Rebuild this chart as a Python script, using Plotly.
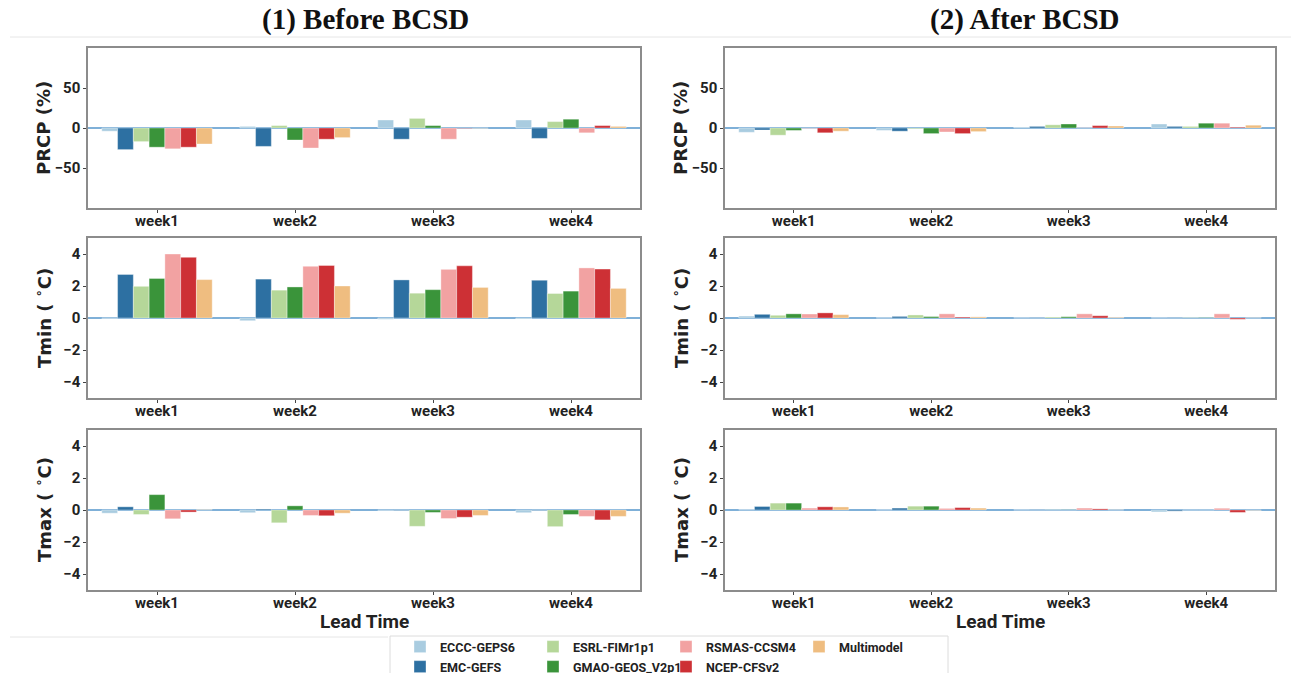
import plotly.graph_objects as go

W, H = 1291, 673

MODELS = ["ECCC-GEPS6", "EMC-GEFS", "ESRL-FIMr1p1", "GMAO-GEOS_V2p1",
          "RSMAS-CCSM4", "NCEP-CFSv2", "Multimodel"]
COLORS = ["#a9cce0", "#2d70a2", "#b5d799", "#3a943a", "#f2a2a2", "#cd3035", "#efbd80"]
WEEKS = ["week1", "week2", "week3", "week4"]

# rows: models in MODELS order, columns: week1..week4
before_prcp = [
    [-4, 2, 10, 10],
    [-27, -23, -14, -13],
    [-17, 3, 12, 8],
    [-24, -15, 3, 11],
    [-26, -25, -14, -6],
    [-24, -14, -0.5, 3],
    [-20, -12, -0.3, 2],
]
before_tmin = [
    [-0.02, -0.17, -0.08, -0.06],
    [2.72, 2.43, 2.38, 2.36],
    [1.98, 1.74, 1.55, 1.53],
    [2.47, 1.94, 1.77, 1.68],
    [4.00, 3.23, 3.04, 3.13],
    [3.79, 3.28, 3.26, 3.06],
    [2.40, 2.00, 1.91, 1.85],
]
before_tmax = [
    [-0.20, -0.17, -0.02, -0.17],
    [0.20, 0.06, -0.02, -0.02],
    [-0.28, -0.80, -1.02, -1.04],
    [0.96, 0.26, -0.15, -0.28],
    [-0.55, -0.34, -0.53, -0.40],
    [-0.13, -0.36, -0.45, -0.62],
    [0.02, -0.20, -0.34, -0.40],
]
after_prcp = [
    [-5.4, -3, 1, 5],
    [-2.5, -4, 2, 2],
    [-9, -1, 4, 2],
    [-3, -7, 5, 6],
    [-0.5, -5, 0.3, 6],
    [-6, -7, 3, 1],
    [-4, -4.5, 2.5, 3.5],
]
after_tmin = [
    [0.12, 0.01, 0.01, 0.01],
    [0.23, 0.10, 0.01, 0.01],
    [0.17, 0.19, 0.06, 0.02],
    [0.26, 0.09, 0.08, 0.02],
    [0.25, 0.26, 0.26, 0.26],
    [0.32, 0.06, 0.14, -0.08],
    [0.21, 0.07, 0.04, 0.01],
]
after_tmax = [
    [0.02, 0.01, 0.01, -0.12],
    [0.22, 0.12, 0.01, -0.07],
    [0.43, 0.24, 0.01, 0.0],
    [0.43, 0.24, 0.01, 0.0],
    [0.12, 0.10, 0.12, 0.11],
    [0.20, 0.15, 0.07, -0.15],
    [0.19, 0.12, 0.01, -0.02],
]

PANELS = [before_prcp, after_prcp, before_tmin, after_tmin, before_tmax, after_tmax]
YTITLES = ["PRCP (%)", "PRCP (%)",
           "Tmin ( <sup>∘</sup>C)", "Tmin ( <sup>∘</sup>C)",
           "Tmax ( <sup>∘</sup>C)", "Tmax ( <sup>∘</sup>C)"]
YRANGES = [[-100, 100], [-100, 100], [-5, 5], [-5, 5], [-5, 5], [-5, 5]]
YTICKS = [[-50, 0, 50], [-50, 0, 50], [-4, -2, 0, 2, 4], [-4, -2, 0, 2, 4],
          [-4, -2, 0, 2, 4], [-4, -2, 0, 2, 4]]

# pixel geometry of the panels
XPIX = [(88, 640), (725, 1275)]
YPIX = [(48, 208), (238, 398), (430, 590)]

ROW1_LEGEND = ["ECCC-GEPS6", "ESRL-FIMr1p1", "RSMAS-CCSM4", "Multimodel"]

NARROW = "Roboto, sans-serif"
TICKFONT = dict(family=NARROW, size=15, color="#222", weight="bold")
fig = go.Figure()

for p, data in enumerate(PANELS):
    ax = "" if p == 0 else str(p + 1)
    for m, name in enumerate(MODELS):
        fig.add_trace(go.Bar(
            x=WEEKS, y=data[m], name=name,
            marker=dict(color=COLORS[m], line=dict(width=0.6, color="rgba(255,255,255,0.6)")),
            xaxis="x" + ax, yaxis="y" + ax,
            showlegend=(p == 0),
            legend="legend" if name in ROW1_LEGEND else "legend2",
            legendrank=m,
        ))

layout = dict(
    width=W, height=H,
    margin=dict(l=0, r=0, t=0, b=0, autoexpand=False),
    paper_bgcolor="white", plot_bgcolor="white",
    barmode="group", bargap=0.2, bargroupgap=0,
    shapes=[], annotations=[],
)

for p in range(6):
    r, c = divmod(p, 2)
    ax = "" if p == 0 else str(p + 1)
    x0, x1 = XPIX[c]
    y0, y1 = YPIX[r]
    layout["xaxis" + ax] = dict(
        domain=[x0 / W, x1 / W], anchor="y" + ax,
        showline=True, mirror=True, linecolor="#8c8c8c", linewidth=1.5,
        ticks="outside", ticklen=3, tickcolor="#444", ticklabelstandoff=-5,
        tickfont=TICKFONT, showgrid=False, zeroline=False,
        range=[-0.5, 3.5], type="category",
    )
    layout["yaxis" + ax] = dict(
        domain=[1 - y1 / H, 1 - y0 / H], anchor="x" + ax,
        showline=True, mirror=True, linecolor="#8c8c8c", linewidth=1.5,
        ticks="outside", ticklen=3, tickcolor="#444",
        tickfont=TICKFONT, showgrid=False,
        zeroline=True, zerolinecolor="#7fb0d8", zerolinewidth=2,
        range=YRANGES[p], tickvals=YTICKS[p],
    )
    # y-axis title
    layout["annotations"].append(dict(
        text=YTITLES[p], textangle=-90, showarrow=False,
        x=(x0 - 45) / W, y=1 - (y0 + y1) / 2 / H, xref="paper", yref="paper",
        xanchor="center", yanchor="middle",
        font=dict(family="DejaVu Sans, sans-serif", size=18, color="#222", weight="bold")))
    if r == 2:
        layout["annotations"].append(dict(
            text="Lead Time", showarrow=False,
            x=(x0 + x1) / 2 / W, y=1 - 621 / H, xref="paper", yref="paper",
            xanchor="center", yanchor="middle",
            font=dict(family=NARROW, size=19, color="#222", weight="bold")))

# panel-set titles
for txt, xc in [("(1) Before BCSD", 365), ("(2) After BCSD", 1025)]:
    layout["annotations"].append(dict(
        text=txt, x=xc / W, y=1 - 19 / H, xref="paper", yref="paper",
        xanchor="center", yanchor="middle", showarrow=False,
        font=dict(family="Liberation Serif, Times New Roman, serif", size=29,
                  color="#111", weight="bold")))

# faint separators and legend frame
layout["shapes"] += [
    dict(type="line", xref="paper", yref="paper", x0=10 / W, x1=1, y0=1 - 37 / H, y1=1 - 37 / H,
         line=dict(color="#e6e6e6", width=1)),
    dict(type="line", xref="paper", yref="paper", x0=10 / W, x1=388 / W, y0=1 - 637 / H, y1=1 - 637 / H,
         line=dict(color="#e6e6e6", width=1)),
    dict(type="rect", xref="paper", yref="paper", x0=390 / W, x1=948 / W, y0=-0.05, y1=1 - 636 / H,
         line=dict(color="#dcdcdc", width=1), fillcolor="rgba(0,0,0,0)"),
]

LEGFONT = dict(family=NARROW, size=12.5, color="#222", weight="bold")
layout["legend"] = dict(orientation="h", x=400 / W, xanchor="left", y=1 - 632 / H, yanchor="top",
                        entrywidth=88, entrywidthmode="pixels", font=LEGFONT,
                        bgcolor="rgba(0,0,0,0)", borderwidth=0, tracegroupgap=0)
layout["legend2"] = dict(orientation="h", x=400 / W, xanchor="left", y=1 - 652 / H, yanchor="top",
                         entrywidth=88, entrywidthmode="pixels", font=LEGFONT,
                         bgcolor="rgba(0,0,0,0)", borderwidth=0, tracegroupgap=0)

fig.update_layout(**layout)
fig.write_html("out.html")
